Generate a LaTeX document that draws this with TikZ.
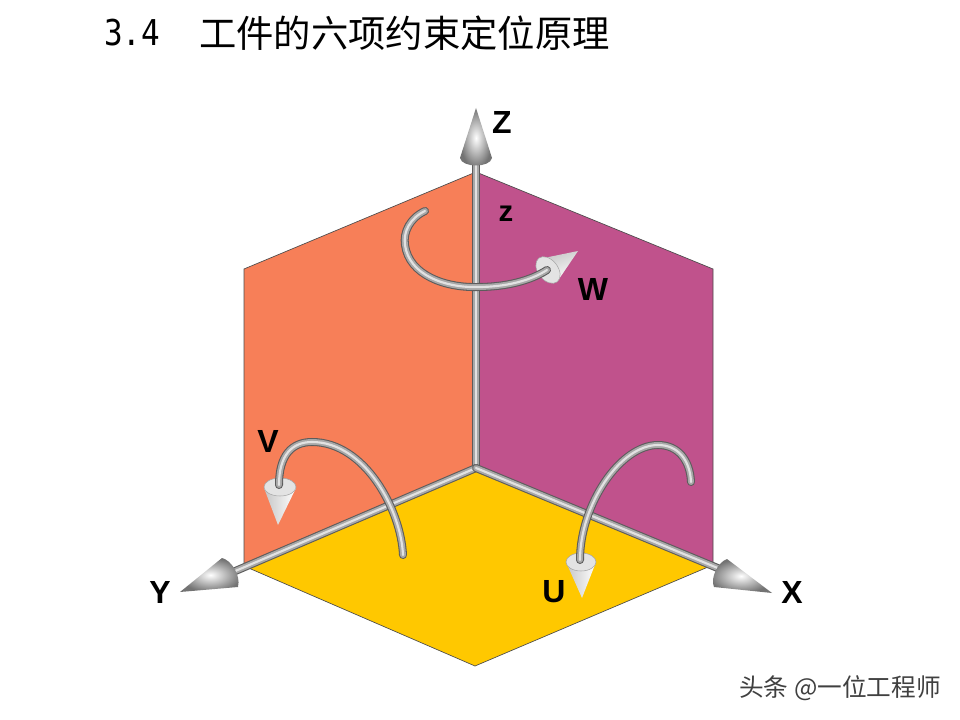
\documentclass[tikz,border=0pt]{standalone}
\usepackage{fontspec}
\usepackage{tikz}
\setsansfont{Liberation Sans}
\newfontfamily\cjk{Noto Sans CJK SC}
\newfontfamily\titlemono{DejaVu Sans Mono}
\definecolor{wallleft}{HTML}{F77F58}
\definecolor{wallright}{HTML}{C0528C}
\definecolor{floorcol}{HTML}{FFC800}
\definecolor{tubedark}{HTML}{5C5C5C}
\definecolor{tubemid}{HTML}{A8A8A8}
\definecolor{tubelight}{HTML}{E2E2E2}
\newcommand{\tube}[1]{
  \foreach \w/\c in {6pt/tubedark,4.4pt/tubemid,1.6pt/tubelight} {
    \draw[line width=\w,color=\c,line cap=round] #1;
  }
}
\tikzset{
  axlabel/.style={inner sep=0pt,font=\sffamily\bfseries\fontsize{24}{26}\selectfont},
  edgeline/.style={line width=0.5pt,draw=black!70},
  darkcone/.style={inner color=white,outer color=gray!90!black},
  lightcone/.style={left color=gray!45,right color=white},
  conebase/.style={fill=gray!22,draw=gray!70,line width=0.4pt}
}
\begin{document}
\begin{tikzpicture}[x=0.75pt,y=-0.75pt]
  \useasboundingbox (0,0) rectangle (960,720);
  \coordinate (o) at (476,468);

  %walls and floor
  \fill[wallleft] (o) -- (476,172) -- (244,269) -- (244,566) -- cycle;
  \fill[wallright] (o) -- (476,172) -- (713,269) -- (713,564) -- cycle;
  \fill[floorcol] (o) -- (708,567) -- (475,666) -- (244,566) -- cycle;
  \draw[edgeline] (244,566) -- (244,269) -- (476,172) -- (713,269) -- (713,564);
  \draw[edgeline] (708,567) -- (475,666) -- (244,566);

  %axes
  \tube{(o) -- (476,162)}
  \tube{(o) -- (233,572)}
  \tube{(o) -- (720,569)}
  \shade[darkcone] (476,108) -- (460,158) .. controls (462,168) and (490,168) .. (492,158) -- cycle;
  \shade[darkcone] (180,592) -- (222,558) .. controls (231,560) and (241,575) .. (238,587) -- cycle;
  \shade[darkcone] (772,593) -- (727,559) .. controls (718,562) and (710,578) .. (714,587) -- cycle;

  %rotation W
  \shade[lightcone,shading angle=20] (578,251) -- (539,259) -- (557,282) -- cycle;
  \draw[conebase,rotate around={38:(548,270)}] (548,270) ellipse [x radius=10,y radius=15];
  \tube{(425,211) .. controls (410,218) and (403,232) .. (405,245) .. controls (409,275) and (445,288) .. (478,287) .. controls (505,287) and (530,281) .. (547,270)}

  %rotation V
  \shade[lightcone] (278,525) -- (264,488) -- (296,488) -- cycle;
  \draw[conebase] (280,487) ellipse [x radius=16,y radius=9];
  \tube{(403,555) .. controls (401,510) and (365,442) .. (312,442) .. controls (292,442) and (279,455) .. (279,485)}

  %rotation U
  \shade[lightcone] (582,598) -- (566,562) -- (596,562) -- cycle;
  \draw[conebase] (581,562) ellipse [x radius=15,y radius=9];
  \tube{(691,482) .. controls (690,460) and (678,445) .. (658,445) .. controls (620,445) and (580,505) .. (580,560)}

  %labels
  \node[axlabel] (lblZ) at (502,122) {Z};
  \node[axlabel,font=\sffamily\bfseries\fontsize{22}{24}\selectfont] (lblz) at (506,214) {z};
  \node[axlabel] (lblW) at (593,289) {W};
  \node[axlabel] (lblV) at (268,441) {V};
  \node[axlabel] (lblU) at (554,592) {U};
  \node[axlabel] (lblY) at (160,592) {Y};
  \node[axlabel] (lblX) at (792,592) {X};

  \node[inner sep=0pt,anchor=west,font=\titlemono\fontsize{23.2}{26}\selectfont] (secnum) at (104,33) {\scalebox{1}[1.15]{3.4}};
  \node[inner sep=0pt,anchor=west,font=\cjk\fontsize{28}{30}\selectfont] (title) at (199,33) {工件的六项约束定位原理};
  \node[inner sep=0pt,anchor=east,text=black!75,font=\cjk\fontsize{18.5}{20}\selectfont] (mark) at (941,688) {头条 @一位工程师};
\end{tikzpicture}
\end{document}
